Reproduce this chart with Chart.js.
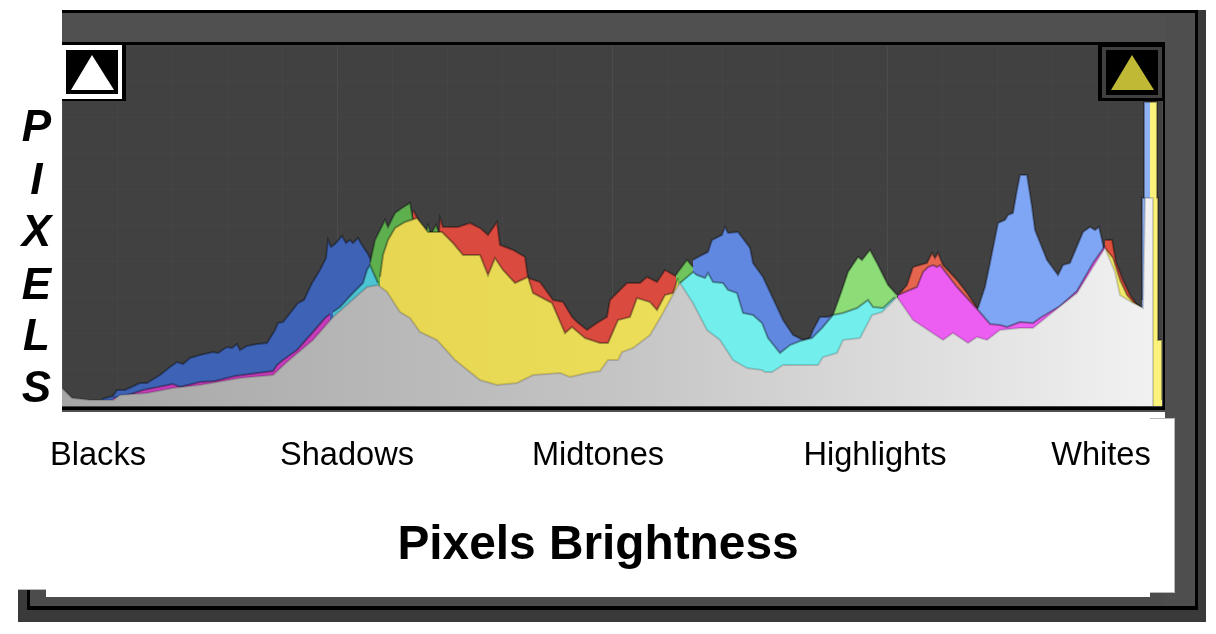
<!DOCTYPE html>
<html>
<head>
<meta charset="utf-8">
<title>Pixels Brightness</title>
<script src="https://cdn.jsdelivr.net/npm/chart.js@4"></script>
<style>
    html, body { margin: 0; padding: 0; background: #fff; }
    canvas { display: block; }
</style>
</head>
<body>
<canvas id="histogramChart" width="1216" height="634"></canvas>
<script>
// Tone zones and axis captions
const zoneLabels = ['Blacks', 'Shadows', 'Midtones', 'Highlights', 'Whites'];
const zoneTicks = [36, 285, 536, 813, 1039];
const axisTitle = ['Pixels Brightness'];
const axisTitleTick = [536];
const pixelLetters = ['P', 'I', 'X', 'E', 'L', 'S'];
const pixelLetterTicks = [277, 224, 172, 119, 68, 16];

// Histogram layers: x = brightness position, y = pixel count
const shadowBlueX = [40,51,55,63,78,85,98,108,115,121,128,138,151,156,165,170,175,178,185,195,205,213,216,221,229,236,242,250,258,264,266,269,273,280,284,288,291,296,300,306,310];
const shadowBlueY = [7,10,16,16,23,23,31,39,44,42,48,51,54,53,59,58,62,56,60,62,63,76,83,84,94,103,106,123,136,148,166,159,162,170,163,166,163,168,161,152,144];

const midRedX = [351,355,358,368,377,378,381,396,408,418,426,435,438,451,463,466,478,491,501,510,515,525,535,545,548,565,578,585,595,603,615];
const midRedY = [196,189,182,171,174,188,179,179,183,178,171,184,161,156,149,128,124,106,104,89,84,76,83,89,106,123,123,129,124,136,129];

const midBlueX = [631,640,646,650,660,663,666,676,688,691,701,715,721,731,741,748,751,758,766,771];
const midBlueY = [146,151,154,166,171,179,173,174,158,143,129,99,86,71,66,68,76,89,89,91];

const salmonX = [838,845,851,865,870,873,876,881,895,905,915];
const salmonY = [113,121,139,143,153,148,153,141,126,113,98];

const lightBlueX = [916,923,928,936,943,946,951,955,958,965,970,973,985,996,1001,1008,1021,1028,1033,1037,1040,1042];
const lightBlueY = [98,119,143,183,186,191,193,216,231,231,199,176,146,131,141,143,174,179,176,179,166,156];

const whiteRedX = [1043,1050,1054,1060,1068,1075,1079];
const whiteRedY = [166,166,144,128,111,101,98];

const stripeBlueX = [1080,1080,1082,1082,1089,1089];
const stripeBlueY = [106,208,208,304,304,0];

const stripeYellowX = [1088,1095,1095,1096,1096,1100,1100];
const stripeYellowY = [304,304,208,208,66,66,6];

const shadowGreenX = [308,313,323,326,333,340,348,351,363,366,369,374,377];
const shadowGreenY = [143,166,186,179,193,198,203,186,172,181,172,181,173];

const midGreenX = [614,616,625,631];
const midGreenY = [131,134,146,139];

const highGreenX = [771,780,786,796,800,808,815,820,826,835];
const highGreenY = [91,116,134,149,146,156,143,133,121,111];

const shadowMagentaX = [51,63,81,111,118,138,153,173,211,215,221,235,251,263,268];
const shadowMagentaY = [8,10,16,22,19,24,25,30,35,41,46,56,74,88,92];

const highMagentaX = [836,855,861,866,871,875,878,895,916,928,938,945,958,971,978,998,1015,1031,1043];
const highMagentaY = [111,119,134,139,141,139,141,119,96,82,81,79,84,83,88,100,115,143,160];

const midYellowX = [318,321,326,333,343,355,366,380,391,401,418,426,433,441,453,466,471,490,503,510,523,538,546,556,568,575,588,595,603,611,616];
const midYellowY = [129,151,166,178,184,188,174,174,163,151,151,131,148,136,123,129,113,103,73,79,68,63,63,86,89,108,104,96,111,113,128];

const whiteYellowX = [1043,1051,1058,1065,1071,1079];
const whiteYellowY = [158,148,126,111,104,99];

const shadowCyanX = [271,278,291,301,305,308,316];
const shadowCyanY = [94,99,113,123,136,141,123];

const midCyanX = [618,631,635,643,646,651,661,666,675,681,691,700,706,718,728,738,750,760,771,781,795,806,811,821,833];
const midCyanY = [123,134,131,128,133,124,123,116,113,93,91,83,68,53,61,65,68,78,91,93,98,106,99,98,109];

const lumaX = [0,10,28,51,58,85,111,138,178,211,225,251,271,288,305,316,325,338,348,358,375,393,418,435,455,471,498,508,525,538,546,556,560,571,588,601,615,618,631,645,658,671,685,700,703,710,721,735,756,761,775,781,798,810,820,835,851,881,891,906,915,925,938,958,971,991,1015,1031,1043,1053,1058,1071,1081,1083,1091,1091];
const lumaY = [18,8,6,6,11,13,18,21,28,31,44,66,89,104,119,121,114,94,88,74,66,46,26,21,23,31,33,29,33,35,46,46,54,58,71,93,119,123,103,76,66,46,38,36,34,34,41,41,41,49,53,66,68,91,94,109,86,66,73,63,69,66,76,78,78,94,113,139,158,134,111,103,98,208,208,0];

// Shared look of every filled layer
function toPoints(xs, ys) {
    return xs.map((x, i) => ({ x: x, y: ys[i] }));
}

function areaLayer(xs, ys, color) {
    return {
        data: toPoints(xs, ys),
        backgroundColor: color,
        borderColor: 'rgba(0,0,0,0.34)',
        borderWidth: 2,
        pointRadius: 0,
        tension: 0,
        fill: 'origin'
    };
}

function horizontalGradient(stops) {
    return function (context) {
        const area = context.chart.chartArea;
        if (!area) return stops[0];
        const grad = context.chart.ctx.createLinearGradient(area.left, 0, area.right, 0);
        stops.forEach((c, i) => grad.addColorStop(i / (stops.length - 1), c));
        return grad;
    };
}

function rect(ctx, color, x0, y0, x1, y1) {
    ctx.fillStyle = color;
    ctx.fillRect(x0, y0, x1 - x0, y1 - y0);
}

function triangle(ctx, color, x0, x1, x2) {
    ctx.fillStyle = color;
    ctx.beginPath();
    ctx.moveTo(x1, 55);
    ctx.lineTo(x2, 90);
    ctx.lineTo(x0, 90);
    ctx.closePath();
    ctx.fill();
}

// Panel frame behind the histogram, white caption sheet on top of it
const framePlugin = {
    id: 'frame',
    beforeDraw(chart) {
        const ctx = chart.ctx;
        ctx.save();
        rect(ctx, '#3a3a3a', 1198, 10, 1206, 622);
        rect(ctx, '#3a3a3a', 18, 590, 1206, 622);
        rect(ctx, '#000', 27, 590, 1198, 610);
        rect(ctx, '#000', 62, 10, 1198, 60);
        rect(ctx, '#000', 1195, 10, 1198, 610);
        rect(ctx, '#4c4c4c', 30, 590, 1195, 606);
        rect(ctx, '#505050', 62, 13, 1195, 42);
        rect(ctx, '#4e4e4e', 1165, 13, 1195, 606);
        rect(ctx, '#505050', 62, 406, 1165, 412);
        rect(ctx, '#000', 62, 42, 1165, 45);
        rect(ctx, '#000', 1162, 42, 1165, 410);
        rect(ctx, '#000', 62, 406, 1165, 410);
        rect(ctx, '#414141', 62, 45, 1162, 406);
        // white sheet with its notched corners
        ctx.fillStyle = '#fff';
        ctx.beginPath();
        ctx.moveTo(0, 412);
        ctx.lineTo(1150, 412);
        ctx.lineTo(1150, 419);
        ctx.lineTo(1174, 419);
        ctx.lineTo(1174, 592);
        ctx.lineTo(1150, 592);
        ctx.lineTo(1150, 597);
        ctx.lineTo(46, 597);
        ctx.lineTo(46, 590);
        ctx.lineTo(0, 590);
        ctx.closePath();
        ctx.fill();
        rect(ctx, '#b8b8b8', 18, 589, 46, 590);
        rect(ctx, '#b8b8b8', 1150, 418, 1175, 419);
        rect(ctx, '#b8b8b8', 1174, 419, 1175, 593);
        rect(ctx, '#b8b8b8', 1150, 592, 1175, 593);
        ctx.restore();
    },
    afterDatasetsDraw(chart) {
        const ctx = chart.ctx;
        ctx.save();
        // clipping warning triangles
        rect(ctx, '#000', 62, 45, 126, 101);
        rect(ctx, '#fff', 62, 45, 122, 99);
        rect(ctx, '#000', 66, 50, 118, 94);
        triangle(ctx, '#fff', 71, 92, 114);
        rect(ctx, '#000', 1098, 45, 1163, 101);
        rect(ctx, '#404040', 1102, 47, 1162, 98);
        rect(ctx, '#000', 1106, 50, 1158, 95);
        triangle(ctx, '#bfb935', 1111, 1132, 1154);
        ctx.restore();
    }
};

// Painted back to front, the chart draws dataset 0 last
const layers = [
    areaLayer(shadowBlueX, shadowBlueY, '#3d62b6'),
    areaLayer(midRedX, midRedY, '#da4a3f'),
    areaLayer(midBlueX, midBlueY, '#6088e0'),
    areaLayer(salmonX, salmonY, '#e5654f'),
    areaLayer(lightBlueX, lightBlueY, '#7fa5f5'),
    areaLayer(whiteRedX, whiteRedY, '#e0503f'),
    areaLayer(stripeBlueX, stripeBlueY, '#8fb2f5'),
    areaLayer(stripeYellowX, stripeYellowY, '#faf27a'),
    areaLayer(shadowGreenX, shadowGreenY, '#5eb04f'),
    areaLayer(midGreenX, midGreenY, '#6fc45c'),
    areaLayer(highGreenX, highGreenY, '#8cdc78'),
    areaLayer(shadowMagentaX, shadowMagentaY, '#c63cbb'),
    areaLayer(highMagentaX, highMagentaY, '#ec5df2'),
    areaLayer(midYellowX, midYellowY, horizontalGradient(['#e0cd4c', '#f6ec62'])),
    areaLayer(whiteYellowX, whiteYellowY, '#f2ea6a'),
    areaLayer(shadowCyanX, shadowCyanY, '#4cc4d4'),
    areaLayer(midCyanX, midCyanY, '#72efec'),
    areaLayer(lumaX, lumaY, horizontalGradient(['#a6a6a6', '#c4c4c4', '#f2f2f2']))
];
layers[layers.length - 1].borderColor = 'rgba(0,0,0,0.16)';

function captionAxis(ticks, labels, height, font, padding) {
    return {
        type: 'linear',
        position: 'bottom',
        min: 0,
        max: 1100,
        grid: { display: false },
        border: { display: false },
        afterBuildTicks(axis) { axis.ticks = ticks.map(v => ({ value: v })); },
        afterFit(axis) { axis.height = height; },
        ticks: {
            autoSkip: false,
            maxRotation: 0,
            padding: padding,
            color: '#000',
            font: font,
            callback: (value, index) => labels[index]
        }
    };
}

new Chart(document.getElementById('histogramChart').getContext('2d'), {
    type: 'line',
    data: { datasets: layers.reverse() },
    plugins: [framePlugin],
    options: {
        responsive: false,
        animation: false,
        layout: { padding: { top: 45, right: 54, left: 0, bottom: 0 } },
        plugins: { legend: { display: false }, tooltip: { enabled: false } },
        scales: {
            x: {
                type: 'linear',
                position: 'bottom',
                min: 0,
                max: 1100,
                weight: 0,
                border: { display: false },
                afterFit(axis) { axis.height = 0; },
                grid: {
                    drawTicks: false,
                    color: ctx => (ctx.tick.value % 275 === 0 ? '#4c4c4c' : '#454545')
                },
                ticks: { display: false, stepSize: 55 }
            },
            zones: Object.assign(captionAxis(zoneTicks, zoneLabels, 84, { family: 'Liberation Sans', size: 32.6 }, 22), { weight: 1 }),
            caption: Object.assign(captionAxis(axisTitleTick, axisTitle, 144, { family: 'Liberation Sans', size: 47.8, weight: 'bold' }, 19), { weight: 2 }),
            y: {
                type: 'linear',
                position: 'left',
                min: 0,
                max: 361,
                border: { display: false },
                grid: { drawTicks: false, color: '#444444' },
                ticks: { display: false, stepSize: 36 },
                afterFit(axis) { axis.width = 0; }
            },
            letters: {
                type: 'linear',
                position: 'left',
                min: 0,
                max: 361,
                grid: { display: false },
                border: { display: false },
                afterBuildTicks(axis) { axis.ticks = pixelLetterTicks.map(v => ({ value: v })); },
                afterFit(axis) { axis.width = 62; },
                ticks: {
                    autoSkip: false,
                    padding: 3,
                    crossAlign: 'center',
                    color: '#000',
                    font: { family: 'Liberation Sans', size: 44, weight: 'bold', style: 'italic' },
                    callback: (value, index) => pixelLetters[index]
                }
            }
        }
    }
});
</script>
</body>
</html>
